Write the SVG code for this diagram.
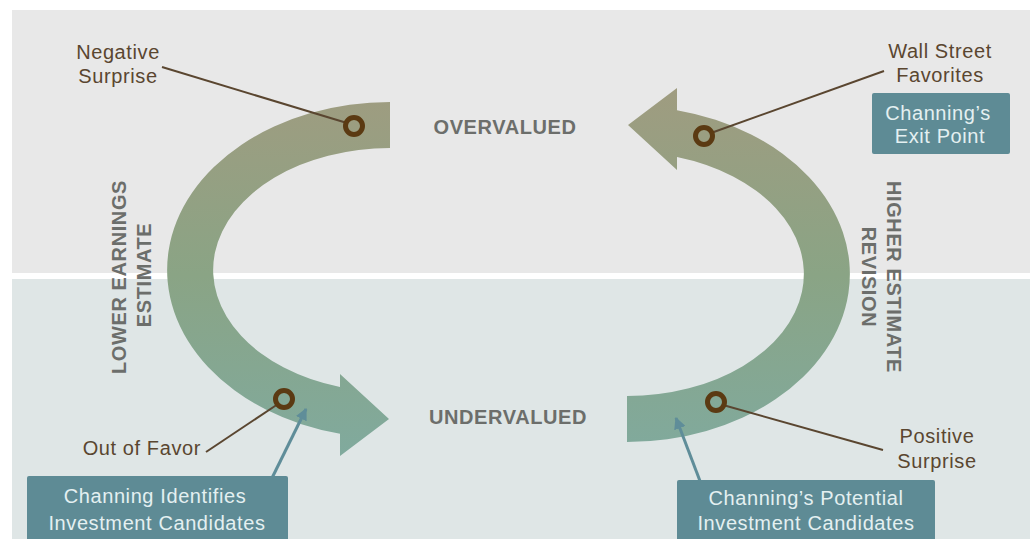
<svg xmlns="http://www.w3.org/2000/svg" width="1034" height="539" viewBox="0 0 1034 539">
  <style>
    text { font-family: "Liberation Sans", Arial, sans-serif; font-size: 20px; letter-spacing: 0.6px; }
    .lbl { fill: #5a4630; }
    .stage { fill: #6c6e6b; font-weight: bold; }
    .box { fill: #5e8b95; }
    .boxtxt { fill: #e4f0f1; }
    .leader { stroke: #5a4630; stroke-width: 2; fill: none; }
    .ring { fill: none; stroke: #5b3a12; stroke-width: 5; }
    .pointer { stroke: #5f8d99; stroke-width: 3; fill: none; }
  </style>
  <defs>
    <linearGradient id="band" gradientUnits="userSpaceOnUse" x1="0" y1="90" x2="0" y2="460">
      <stop offset="0" stop-color="#9f9c80"/>
      <stop offset="0.5" stop-color="#8aa485"/>
      <stop offset="1" stop-color="#80aa9e"/>
    </linearGradient>
    <marker id="tip" viewBox="0 0 10 10" refX="9" refY="5" markerWidth="4" markerHeight="4" orient="auto" markerUnits="strokeWidth">
      <path d="M0,0 L10,5 L0,10 Z" fill="#5f8d99"/>
    </marker>
  </defs>

  <!-- background panels -->
  <rect x="0" y="0" width="1034" height="539" fill="#ffffff"/>
  <rect x="12" y="10" width="1018" height="263" fill="#e8e8e8"/>
  <rect x="12" y="279" width="1018" height="260" fill="#dfe6e6"/>

  <!-- cycle bands -->
  <g id="lower-arc">
    <path d="M 390 102 A 223 168 0 0 0 340 433.7 L 340 456 L 389 419 L 340 374 L 340 387 A 177 122 0 0 1 390 148 Z" fill="url(#band)"/>
  </g>
  <g id="higher-arc">
    <path d="M 627 442 A 223 168 0 0 0 677 110.3 L 677 88 L 628 125 L 677 170 L 677 157 A 177 122 0 0 1 627 396 Z" fill="url(#band)"/>
  </g>

  <!-- stage labels -->
  <g id="overvalued"><text class="stage" x="505" y="134" text-anchor="middle">OVERVALUED</text></g>
  <g id="undervalued"><text class="stage" x="508" y="424" text-anchor="middle">UNDERVALUED</text></g>
  <g id="lower-estimate">
    <text class="stage" transform="translate(126,277) rotate(-90)" text-anchor="middle">LOWER EARNINGS</text>
    <text class="stage" transform="translate(151,275) rotate(-90)" text-anchor="middle">ESTIMATE</text>
  </g>
  <g id="higher-estimate">
    <text class="stage" transform="translate(887,277) rotate(90)" text-anchor="middle">HIGHER ESTIMATE</text>
    <text class="stage" transform="translate(862,277) rotate(90)" text-anchor="middle">REVISION</text>
  </g>

  <!-- connectors -->
  <g id="connectors">
    <line class="leader" x1="162" y1="67" x2="347" y2="123"/>
    <line class="leader" x1="884" y1="71" x2="711" y2="133"/>
    <line class="leader" x1="206" y1="452" x2="278" y2="404"/>
    <line class="leader" x1="883" y1="450" x2="723" y2="405"/>
    <line class="pointer" x1="272" y1="478" x2="306" y2="409" marker-end="url(#tip)"/>
    <line class="pointer" x1="700" y1="481" x2="676" y2="418" marker-end="url(#tip)"/>
  </g>

  <!-- markers on the bands -->
  <g id="negative-surprise">
    <circle class="ring" cx="354" cy="126" r="8.5"/>
    <text class="lbl" x="118" y="59" text-anchor="middle">Negative</text>
    <text class="lbl" x="118" y="83" text-anchor="middle">Surprise</text>
  </g>
  <g id="wall-street-favorites">
    <circle class="ring" cx="704" cy="136" r="8.5"/>
    <text class="lbl" x="940" y="58" text-anchor="middle">Wall Street</text>
    <text class="lbl" x="940" y="82" text-anchor="middle">Favorites</text>
  </g>
  <g id="out-of-favor">
    <circle class="ring" cx="284" cy="399" r="8.5"/>
    <text class="lbl" x="201" y="455" text-anchor="end">Out of Favor</text>
  </g>
  <g id="positive-surprise">
    <circle class="ring" cx="716" cy="402" r="8.5"/>
    <text class="lbl" x="937" y="443" text-anchor="middle">Positive</text>
    <text class="lbl" x="937" y="468" text-anchor="middle">Surprise</text>
  </g>

  <!-- callout boxes -->
  <g id="exit-point">
    <rect class="box" x="872" y="93" width="138" height="61" rx="2"/>
    <text class="boxtxt" x="938" y="120" text-anchor="middle">Channing’s</text>
    <text class="boxtxt" x="940" y="143" text-anchor="middle">Exit Point</text>
  </g>
  <g id="identifies-candidates">
    <rect class="box" x="27" y="476" width="261" height="70" rx="2"/>
    <text class="boxtxt" x="155" y="503" text-anchor="middle">Channing Identifies</text>
    <text class="boxtxt" x="157" y="530" text-anchor="middle">Investment Candidates</text>
  </g>
  <g id="potential-candidates">
    <rect class="box" x="677" y="480" width="258" height="66" rx="2"/>
    <text class="boxtxt" x="806" y="505" text-anchor="middle">Channing’s Potential</text>
    <text class="boxtxt" x="806" y="530" text-anchor="middle">Investment Candidates</text>
  </g>
</svg>
